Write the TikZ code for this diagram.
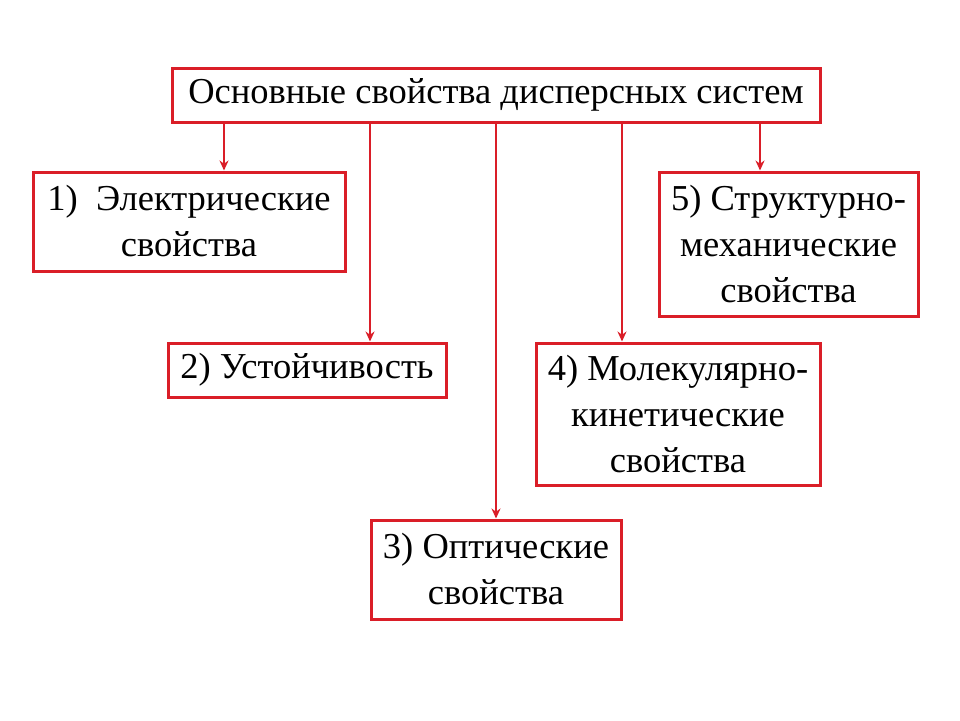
\documentclass[tikz,border=0pt]{standalone}
\usepackage{fontspec}
\setmainfont{Liberation Serif}
\usetikzlibrary{arrows.meta}
\definecolor{boxred}{RGB}{218,30,40}
\begin{document}
\begin{tikzpicture}[
  x = 1pt, y = -1pt,
  prop/.style = {
    draw = boxred,
    line width = 3pt,
    fill = white,
    align = center,
    inner sep = 0pt,
    font = \fontsize{36.5}{46}\selectfont,
  },
  link/.style = {
    draw = boxred,
    line width = 1.6pt,
    -{Stealth[length=10pt, width=9pt]}
  }
]
  \useasboundingbox (0,0) rectangle (960,720);

  \node[prop, minimum width = 648pt, minimum height = 54pt] (root) at (496, 95) {Основные свойства дисперсных систем};

  \node[prop, minimum width = 312pt, minimum height = 99pt] (p1) at (189, 221.5) {1)\enspace Электрические\\свойства};
  \node[prop, minimum width = 278pt, minimum height = 54pt] (p2) at (307, 370) {2) Устойчивость};
  \node[prop, minimum width = 250pt, minimum height = 99pt] (p3) at (496, 569.5) {3) Оптические\\свойства};
  \node[prop, minimum width = 284pt, minimum height = 142pt] (p4) at (678, 414) {4) Молекулярно-\\кинетические\\свойства};
  \node[prop, minimum width = 259pt, minimum height = 144pt] (p5) at (788.5, 244) {5) Структурно-\\механические\\свойства};

  \draw[link] (root.south -| 224,0) -- (p1.north -| 224,0);
  \draw[link] (root.south -| 370,0) -- (p2.north -| 370,0);
  \draw[link] (root.south) -- (p3.north);
  \draw[link] (root.south -| 622,0) -- (p4.north -| 622,0);
  \draw[link] (root.south -| 760,0) -- (p5.north -| 760,0);
\end{tikzpicture}
\end{document}
